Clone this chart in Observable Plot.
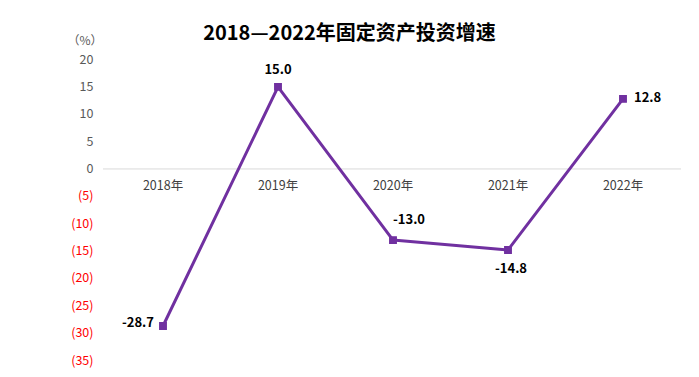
<!DOCTYPE html>
<html>
<head>
<meta charset="utf-8">
<script src="https://cdn.jsdelivr.net/npm/d3@7"></script>
<script src="https://cdn.jsdelivr.net/npm/@observablehq/plot@0.6"></script>
<style>
  body { margin: 0; background: #fff; }
  svg { display: block; }
</style>
</head>
<body>
<div id="chart"></div>
<script>
const years = ["2018年", "2019年", "2020年", "2021年", "2022年"];
const growth = [-28.7, 15.0, -13.0, -14.8, 12.8];
const yTicks = [20, 15, 10, 5, 0, -5, -10, -15, -20, -25, -30, -35];
const yTickLabels = ["20", "15", "10", "5", "0", "(5)", "(10)", "(15)", "(20)", "(25)", "(30)", "(35)"];
const titleText = "2018—2022年固定资产投资增速";
const unitText = "（%）";

const data = years.map((y, i) => ({year: y, value: growth[i], label: growth[i].toFixed(1)}));
const font = "'Noto Sans CJK SC', 'Noto Sans', sans-serif";

const labelMark = (i, opts) => Plot.text(data.filter((d, j) => j === i), {
  x: "year", y: "value", text: "label", fontWeight: "bold", fontSize: 13, fill: "#000", ...opts
});

const chart = Plot.plot({
  width: 699,
  height: 377,
  marginTop: 59,
  marginBottom: 17,
  marginLeft: 103,
  marginRight: 18,
  style: {fontFamily: font, background: "#fff"},
  x: {type: "band", domain: years, padding: 0, axis: null},
  y: {domain: [-35, 20], axis: null},
  marks: [
    Plot.ruleY([0], {stroke: "#d9d9d9", strokeWidth: 1}),
    Plot.text(yTicks.map((t, i) => ({t, s: yTickLabels[i]})), {
      y: "t", text: "s", frameAnchor: "left", dx: -10, textAnchor: "end",
      fontSize: 12.5, fill: d => d.t < 0 ? "#ff0000" : "#595959"
    }),
    Plot.text([unitText], {frameAnchor: "top-left", dx: -36, dy: -23, fontSize: 12, fill: "#595959", textAnchor: "start"}),
    Plot.text(years, {x: d => d, y: () => 0, dy: 17, fontSize: 12.5, fill: "#404040"}),
    Plot.line(data, {x: "year", y: "value", stroke: "#7030A0", strokeWidth: 3}),
    Plot.dot(data, {x: "year", y: "value", symbol: "square", r: 3.6, fill: "#7030A0", stroke: "#7030A0"}),
    labelMark(0, {dx: -9, dy: -3, textAnchor: "end"}),
    labelMark(1, {dy: -17}),
    labelMark(2, {dx: 16, dy: -20}),
    labelMark(3, {dx: 3, dy: 19}),
    labelMark(4, {dx: 11, dy: -1, textAnchor: "start"}),
    Plot.text([titleText], {frameAnchor: "top", dx: -43, dy: -34, fontSize: 20, fontWeight: "bold", fill: "#000"})
  ]
});
document.getElementById("chart").appendChild(chart);
</script>
</body>
</html>
